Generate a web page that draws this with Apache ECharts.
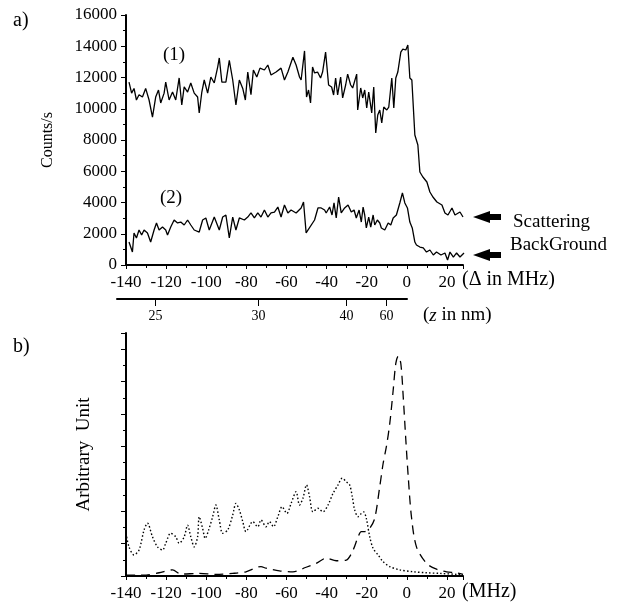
<!DOCTYPE html>
<html>
<head>
<meta charset="utf-8">
<script src="https://cdn.jsdelivr.net/npm/echarts@6/dist/echarts.min.js"></script>
<style>html,body{margin:0;padding:0;background:#fff;}#c{width:617px;height:603px;}</style>
</head>
<body>
<div id="c"></div>
<script>
// ---- Panel a) : Counts/s vs detuning (MHz) ----
const s1Delta = [-138.5,-137.2,-136,-134.8,-133.5,-131.8,-130.2,-128.5,-126.8,-125.2,-123.8,-122.7,-121,-120.2,-118.5,-116.8,-115.2,-113.5,-112.2,-111,-109.3,-107.7,-106,-104.3,-103.5,-102.2,-101,-99.3,-97.7,-96,-94.3,-93.5,-92.2,-90.2,-88.5,-86.8,-85.2,-83.5,-81.8,-80.5,-79.3,-77.7,-76.5,-74.8,-73.2,-71,-69.3,-67.7,-65.2,-62.7,-61,-59.3,-56.8,-55.2,-53.5,-52.7,-51,-50,-49,-48,-47,-46,-44.5,-43,-42,-40.5,-39,-37.5,-36.5,-35.5,-34.5,-33,-32,-30.5,-29.5,-28,-27,-25,-24.5,-23,-22,-21,-20,-19,-17.5,-16.5,-15.5,-14.5,-13.5,-12.5,-11.5,-10,-9,-7.5,-6.5,-5.5,-4.5,-3,-2,-0.5,0.5,1.5,2.5,4,5.5,6.5,8,10,11.5,13,15,17.5,19,20.5,22.5,24,26.5,28];
const s1Counts = [11700,11000,11300,10560,10900,10750,11300,10560,9470,10750,11200,10370,11000,11700,10560,11070,10560,11970,10240,11400,11070,11650,11000,10750,9730,11070,11840,11000,12030,11650,12670,13250,11700,11700,13100,11840,10240,11840,11300,10560,12350,10900,12480,12030,12600,12480,12800,12160,12350,12600,11840,12350,13300,12800,12030,11840,13700,10750,11200,10370,12670,12290,12350,11970,12350,13630,11520,11390,10880,11970,10880,12030,10690,11520,12220,11520,11330,12220,9920,11330,10690,11200,10050,11070,9730,11390,8450,9600,9920,9090,10110,9920,10110,11970,10050,11970,12350,13630,13820,13760,14080,11970,11840,8320,7680,5950,5630,5310,4670,4350,4030,3840,3330,3200,3650,3200,3390,3070];

const s2Delta = [-138.5,-136.8,-136,-134.8,-133.5,-132.2,-131,-129.3,-127.7,-126,-124.8,-123.5,-121.8,-120.2,-119.3,-117.7,-116,-114.3,-112.7,-111,-109.3,-107.7,-106,-103.5,-101.8,-100.2,-98.5,-96,-93.5,-91.8,-90.2,-88.5,-86.8,-85.2,-83.5,-81,-79.3,-77.7,-76,-74.3,-72.7,-71,-69.3,-67.7,-66,-64.3,-62.7,-61,-59.3,-57.7,-55.2,-52.7,-51.5,-50.2,
  -46,-44.3,-42.7,-41,-40.2,-38.5,-37.3,-36.3,-35.2,-34,-32.7,-31,-29.3,-27.7,-26.3,-25.2,-23.8,-22.7,-21.8,-21,-20.2,-19,-18,-16.8,-16,-14.7,-13.5,-12.7,-11,-9.3,-8,-6.8,-5.2,-3.5,-2.2,-1,0.3,1.5,2.7,4,4.8,6.5,8.2,9.8,11.5,13.2,14.8,17,19,20.3,21.5,23.2,24.8,26.5,28.5];
const s2Counts = [1470,830,2050,1730,2240,1920,2240,2050,1470,2240,2690,2240,2430,2240,1920,2430,2880,2690,2750,2560,2880,2560,2240,2110,2880,3010,2240,3070,2240,3070,3200,1730,3070,2240,3010,2880,3070,3330,3010,3330,3070,3520,3070,3330,3390,3710,3070,3840,3330,3520,3330,3650,4030,2050,
  2880,3650,3650,3520,3330,3710,3200,3970,3010,4350,3330,3650,3840,3390,3520,3010,3520,2750,3710,3200,2370,3070,2430,3200,2560,2880,2690,2370,2240,2690,2560,3010,3200,3970,4610,3970,3650,2750,2370,1470,1280,1150,1090,830,960,640,830,640,770,320,830,510,770,510,770];

// ---- Panel b) : arbitrary units ----
const dotDelta = [-140,-138.5,-136,-133.5,-131,-129.3,-126.8,-124.3,-121.8,-120.2,-117.7,-115.2,-113.5,-111,-109.3,-107.7,-106,-104.3,-103.5,-101.8,-100.5,-98.8,-96.8,-95.2,-93.5,-91.8,-89.3,-86.8,-85.2,-83.5,-81.8,-80.2,-76.8,-74.3,-72.7,-70.2,-68.5,-66.5,-64.3,-62.2,-59.8,-57.7,-55.2,-53.5,-51.8,-50,-48.5,-46.8,-44.3,-41.8,-39.3,-36.8,-34.3,-32.2,-30.2,-28.5,-27.2,-26,-24.3,-22.7,-21.5,-20.2,-18.5,-16.8,-14.3,-11.8,-8.5,-3.5,3.2,9.8,16.5,24.8,28];
const dotValues = [1.32,0.9,0.65,0.8,1.42,1.63,1.21,0.9,0.8,1.01,1.32,1.21,1.01,1.21,1.57,1.21,0.9,1.21,1.83,1.47,1.16,1.42,1.83,2.19,1.73,1.32,1.42,1.88,2.24,2.04,1.68,1.37,1.68,1.52,1.73,1.52,1.68,1.52,1.83,2.14,1.93,2.24,2.6,2.19,2.4,2.81,2.45,1.98,2.09,1.98,2.19,2.55,2.81,3.02,2.91,2.81,2.45,2.04,1.83,1.93,1.98,1.78,1.21,0.85,0.65,0.44,0.29,0.19,0.13,0.1,0.08,0.05,0.03];

const dashDelta = [-140,-135,-130,-123.5,-116.8,-112.7,-103.5,-95.2,-86.8,-80.2,-72.7,-70.2,-63.5,-56.8,-50.2,-45.2,-40.2,-35.2,-30.2,-26.8,-24.3,-22.7,-21,-18.5,-16,-13.5,-11.8,-10.2,-8.5,-6.8,-5.5,-4.3,-3,-1.8,-0.5,0.7,2.3,4.8,9.8,14.8,19.8,24.8,28];
const dashValues = [0.03,0.03,0.03,0.1,0.19,0.06,0.08,0.05,0.08,0.13,0.29,0.24,0.16,0.13,0.27,0.39,0.55,0.47,0.49,0.8,1.21,1.37,1.37,1.47,1.78,2.76,3.48,3.99,4.71,5.74,6.56,6.79,6.56,5.53,4.2,3.06,1.83,0.9,0.39,0.21,0.13,0.1,0.05];

// ---- secondary distance scale (z in nm), tick positions on the detuning scale ----
const zTickDelta = [-125.7, -74.3, -30.2, -10.2];
const zTickLabels = ['25', '30', '40', '60'];

const zip = (xs, ys) => xs.map((x, i) => [x, ys[i]]);
const FONT = '"Liberation Serif", "Times New Roman", serif';
const black = '#000';

const chart = echarts.init(document.getElementById('c'), null, {renderer: 'canvas'});

function freqAxis(gridIndex) {
  return {
    type: 'value', gridIndex, min: -140, max: 28, interval: 20,
    axisLine: {show: true, onZero: false, lineStyle: {color: black, width: 2}},
    axisTick: {show: true, inside: false, length: 4, lineStyle: {color: black, width: 1}},
    minorTick: {show: true, splitNumber: 2, length: 3, lineStyle: {color: black, width: 1}},
    axisLabel: {color: black, fontFamily: FONT, fontSize: 17, margin: 9},
    splitLine: {show: false}, minorSplitLine: {show: false}
  };
}

const option = {
  animation: false,
  backgroundColor: '#fff',
  textStyle: {fontFamily: FONT},
  grid: [
    {left: 126, right: 154, top: 15, height: 250, outerBoundsMode: 'none', containLabel: false},
    {left: 126, right: 154, top: 333, height: 243, outerBoundsMode: 'none', containLabel: false},
    {left: 117, right: 210, top: 298, height: 1, outerBoundsMode: 'none', containLabel: false}
  ],
  xAxis: [
    freqAxis(0),
    freqAxis(1),
    {
      type: 'value', gridIndex: 2, min: -145, max: 0,
      axisLine: {show: true, onZero: false, lineStyle: {color: black, width: 2}},
      axisTick: {show: true, inside: false, length: 7, customValues: zTickDelta, lineStyle: {color: black, width: 1}},
      axisLabel: {show: true, color: black, fontFamily: FONT, fontSize: 14, margin: 10, customValues: zTickDelta,
        formatter: v => { const i = zTickDelta.findIndex(d => Math.abs(d - v) < 1e-6); return i >= 0 ? zTickLabels[i] : ''; }},
      splitLine: {show: false}
    }
  ],
  yAxis: [
    {
      type: 'value', gridIndex: 0, min: 0, max: 16000, interval: 2000,
      name: 'Counts/s', nameLocation: 'middle', nameGap: 70,
      nameTextStyle: {color: black, fontFamily: FONT, fontSize: 16},
      axisLine: {show: true, onZero: false, lineStyle: {color: black, width: 2}},
      axisTick: {show: true, inside: false, length: 5, lineStyle: {color: black, width: 1}},
      minorTick: {show: true, splitNumber: 2, length: 3, lineStyle: {color: black, width: 1}},
      axisLabel: {color: black, fontFamily: FONT, fontSize: 17, margin: 9, formatter: v => String(v)},
      splitLine: {show: false}, minorSplitLine: {show: false}
    },
    {
      type: 'value', gridIndex: 1, min: 0, max: 7.5, interval: 1,
      name: 'Arbitrary  Unit', nameLocation: 'middle', nameGap: 32,
      nameTextStyle: {color: black, fontFamily: FONT, fontSize: 19},
      axisLine: {show: true, onZero: false, lineStyle: {color: black, width: 2}},
      axisTick: {show: true, inside: false, length: 5, lineStyle: {color: black, width: 1}},
      minorTick: {show: true, splitNumber: 2, length: 3, lineStyle: {color: black, width: 1}},
      axisLabel: {show: false},
      splitLine: {show: false}, minorSplitLine: {show: false}
    },
    {type: 'value', gridIndex: 2, show: false, min: 0, max: 1}
  ],
  series: [
    {name: '(1)', type: 'line', xAxisIndex: 0, yAxisIndex: 0, data: zip(s1Delta, s1Counts),
      showSymbol: false, lineStyle: {color: black, width: 1.3}},
    {name: '(2)', type: 'line', xAxisIndex: 0, yAxisIndex: 0, data: zip(s2Delta, s2Counts),
      showSymbol: false, lineStyle: {color: black, width: 1.3}},
    {name: 'dotted', type: 'line', xAxisIndex: 1, yAxisIndex: 1, data: zip(dotDelta, dotValues),
      showSymbol: false, smooth: 0.3, lineStyle: {color: black, width: 1.4, type: [1.5, 2.2]}},
    {name: 'dashed', type: 'line', xAxisIndex: 1, yAxisIndex: 1, data: zip(dashDelta, dashValues),
      showSymbol: false, smooth: 0.3, lineStyle: {color: black, width: 1.3, type: [9, 6]}}
  ],
  graphic: [
    {type: 'text', left: 13, top: 11, style: {text: 'a)', font: '20px ' + FONT, fill: black}},
    {type: 'text', left: 13, top: 337, style: {text: 'b)', font: '20px ' + FONT, fill: black}},
    {type: 'text', left: 163, top: 46, style: {text: '(1)', font: '19px ' + FONT, fill: black}},
    {type: 'text', left: 160, top: 189, style: {text: '(2)', font: '19px ' + FONT, fill: black}},
    {type: 'text', left: 462, top: 270, style: {text: '(Δ in MHz)', font: '20px ' + FONT, fill: black}},
    {type: 'text', left: 423, top: 306, style: {rich: {i: {font: 'italic 19px ' + FONT, fill: black}, n: {font: '19px ' + FONT, fill: black}}, text: '{n|(}{i|z}{n| in nm)}'}},
    {type: 'text', left: 462, top: 582, style: {text: '(MHz)', font: '20px ' + FONT, fill: black}},
    {type: 'text', left: 513, top: 213, style: {text: 'Scattering', font: '19px ' + FONT, fill: black}},
    {type: 'text', left: 510, top: 236, style: {text: 'BackGround', font: '19px ' + FONT, fill: black}},
    {type: 'polygon', shape: {points: [[473,217],[490,211],[490,214],[501,214],[501,220],[490,220],[490,223]]}, style: {fill: black}},
    {type: 'polygon', shape: {points: [[473,255],[490,249],[490,252],[501,252],[501,258],[490,258],[490,261]]}, style: {fill: black}}
  ]
};
chart.setOption(option);
</script>
</body>
</html>
